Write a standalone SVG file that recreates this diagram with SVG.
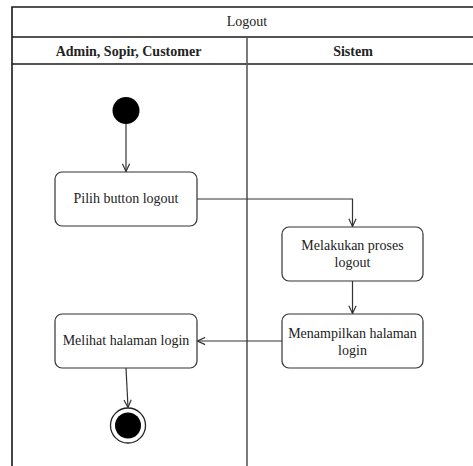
<svg xmlns="http://www.w3.org/2000/svg" width="473" height="466" viewBox="0 0 473 466">
  <style>
    .frame { fill: none; stroke: #1a1a1a; stroke-width: 1.6; }
    .lane { fill: none; stroke: #5a5a5a; stroke-width: 1.6; }
    .act { fill: #ffffff; stroke: #333333; stroke-width: 1.2; }
    .flow { fill: none; stroke: #333333; stroke-width: 1.2; }
    .txt { font-family: "Liberation Serif", "Times New Roman", serif; font-size: 14px; fill: #222222; text-anchor: middle; }
    .hdr { font-family: "Liberation Serif", "Times New Roman", serif; font-size: 14px; font-weight: bold; fill: #222222; text-anchor: middle; }
  </style>
  <defs>
    <marker id="open" viewBox="0 0 10 10" refX="9.5" refY="5" markerWidth="9" markerHeight="9" markerUnits="userSpaceOnUse" orient="auto">
      <path d="M1,1 L9.5,5 L1,9" fill="none" stroke="#333333" stroke-width="1.3"/>
    </marker>
  </defs>
  <rect width="473" height="466" fill="#ffffff"/>

  <!-- swimlane frame -->
  <g id="pool">
    <path class="frame" d="M12,466 V7 H474"/>
    <line class="frame" x1="12" y1="37" x2="474" y2="37"/>
    <line class="frame" x1="12" y1="64" x2="474" y2="64"/>
    <line class="lane" x1="247" y1="37" x2="247" y2="466"/>
    <text class="txt" x="247" y="26">Logout</text>
    <text class="hdr" x="128.5" y="55.5">Admin, Sopir, Customer</text>
    <text class="hdr" x="353" y="55.5">Sistem</text>
  </g>

  <g id="start">
    <circle cx="126" cy="110.5" r="13.5" fill="#000000"/>
  </g>

  <g id="pilih">
    <rect class="act" x="55" y="172" width="142" height="54" rx="7"/>
    <text class="txt" x="126" y="203">Pilih button logout</text>
  </g>

  <g id="proses">
    <rect class="act" x="282" y="227" width="141" height="54" rx="7"/>
    <text class="txt" x="352.5" y="250">Melakukan proses</text>
    <text class="txt" x="352.5" y="267">logout</text>
  </g>

  <g id="tampil">
    <rect class="act" x="282" y="314" width="141" height="54" rx="7"/>
    <text class="txt" x="352.5" y="338">Menampilkan halaman</text>
    <text class="txt" x="352.5" y="355">login</text>
  </g>

  <g id="melihat">
    <rect class="act" x="55" y="314" width="142" height="54" rx="7"/>
    <text class="txt" x="126" y="345">Melihat halaman login</text>
  </g>

  <g id="end">
    <circle cx="128" cy="425.5" r="17.5" fill="#ffffff" stroke="#222222" stroke-width="1.3"/>
    <circle cx="128" cy="425.5" r="13" fill="#000000"/>
  </g>

  <g id="connectors">
    <line class="flow" x1="126" y1="124" x2="126" y2="171.5" marker-end="url(#open)"/>
    <polyline class="flow" points="197,199 352.5,199 352.5,226.5" marker-end="url(#open)"/>
    <line class="flow" x1="352.5" y1="281" x2="352.5" y2="313.5" marker-end="url(#open)"/>
    <line class="flow" x1="282" y1="341" x2="197.5" y2="341" marker-end="url(#open)"/>
    <line class="flow" x1="126" y1="368" x2="128" y2="407.5" marker-end="url(#open)"/>
  </g>
</svg>
